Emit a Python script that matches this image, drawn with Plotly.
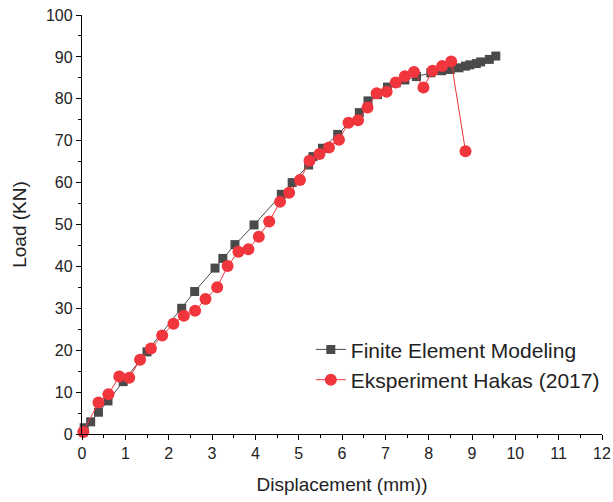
import plotly.graph_objects as go

fem_x = [0.05, 0.2, 0.38, 0.6, 0.95, 1.5, 2.3, 2.6, 3.07, 3.25, 3.53, 3.97, 4.6, 4.85, 5.23, 5.33,
         5.55, 5.9, 6.4, 6.6, 6.82, 7.05, 7.25, 7.45, 7.72, 8.05, 8.3, 8.5, 8.7, 8.85, 8.95, 9.1,
         9.2, 9.4, 9.55]
fem_y = [1.5, 2.9, 5.2, 7.9, 12.5, 19.6, 30.0, 34.0, 39.6, 41.9, 45.2, 49.9, 57.2, 60.0, 64.2, 66.2,
         68.2, 71.5, 76.7, 79.5, 81.0, 82.8, 83.8, 84.5, 85.3, 86.2, 86.7, 87.0, 87.4, 87.8, 88.1, 88.4,
         88.8, 89.4, 90.2]

exp_x = [0.03, 0.38, 0.61, 0.86, 1.09, 1.34, 1.59, 1.85, 2.11, 2.35, 2.61, 2.85, 3.12, 3.36, 3.61,
         3.84, 4.08, 4.32, 4.57, 4.78, 5.03, 5.25, 5.48, 5.70, 5.93, 6.15, 6.37, 6.59, 6.80, 7.03,
         7.24, 7.45, 7.66, 7.88, 8.09, 8.31, 8.52, 8.85]
exp_y = [0.5, 7.5, 9.5, 13.7, 13.4, 17.7, 20.4, 23.5, 26.3, 28.2, 29.4, 32.2, 35.0, 40.1, 43.5,
         44.1, 47.1, 50.7, 55.4, 57.6, 60.6, 65.2, 66.8, 68.4, 70.2, 74.3, 74.9, 77.9, 81.3, 81.7,
         83.9, 85.4, 86.4, 82.7, 86.7, 87.8, 88.9, 67.5]

fig = go.Figure()
fig.add_trace(go.Scatter(x=fem_x, y=fem_y, mode="lines+markers", name="Finite Element Modeling",
                         line=dict(color="#4a4a4a", width=1),
                         marker=dict(symbol="square", size=9, color="#4a4a4a"),
                         cliponaxis=False))
fig.add_trace(go.Scatter(x=exp_x, y=exp_y, mode="lines+markers", name="Eksperiment Hakas (2017)",
                         line=dict(color="#f0353d", width=1),
                         marker=dict(symbol="circle", size=12, color="#f0353d"),
                         cliponaxis=False))

axis_common = dict(showline=True, linecolor="black", linewidth=1.3, ticks="outside", ticklen=5,
                   tickcolor="black", tickwidth=1.3, showgrid=False, zeroline=False,
                   tickfont=dict(family="Arial, Liberation Sans", size=16, color="#222"),
                   mirror=False, automargin=False)

fig.update_layout(
    width=613, height=502,
    margin=dict(l=82, r=11, t=15, b=68, autoexpand=False),
    paper_bgcolor="white", plot_bgcolor="white",
    font=dict(family="Arial, Liberation Sans", color="black"),
    xaxis=dict(range=[0, 12], dtick=1, tick0=0,
               minor=dict(dtick=0.5, ticks="outside", ticklen=3, tickcolor="black", tickwidth=1),
               title=dict(text="Displacement (mm))", font=dict(size=19, color="#222"), standoff=16),
               **axis_common),
    yaxis=dict(range=[0, 100], dtick=10, tick0=0,
               minor=dict(dtick=5, ticks="outside", ticklen=3, tickcolor="black", tickwidth=1),
               title=dict(text="Load (KN)", font=dict(size=19, color="#222"), standoff=14),
               **axis_common),
    legend=dict(x=0.44, y=0.25, xanchor="left", yanchor="top", bgcolor="rgba(0,0,0,0)",
                font=dict(size=21, family="Arial, Liberation Sans", color="#222"),
                tracegroupgap=0, itemsizing="trace"),
    showlegend=True,
)

fig.write_html("out.html")
